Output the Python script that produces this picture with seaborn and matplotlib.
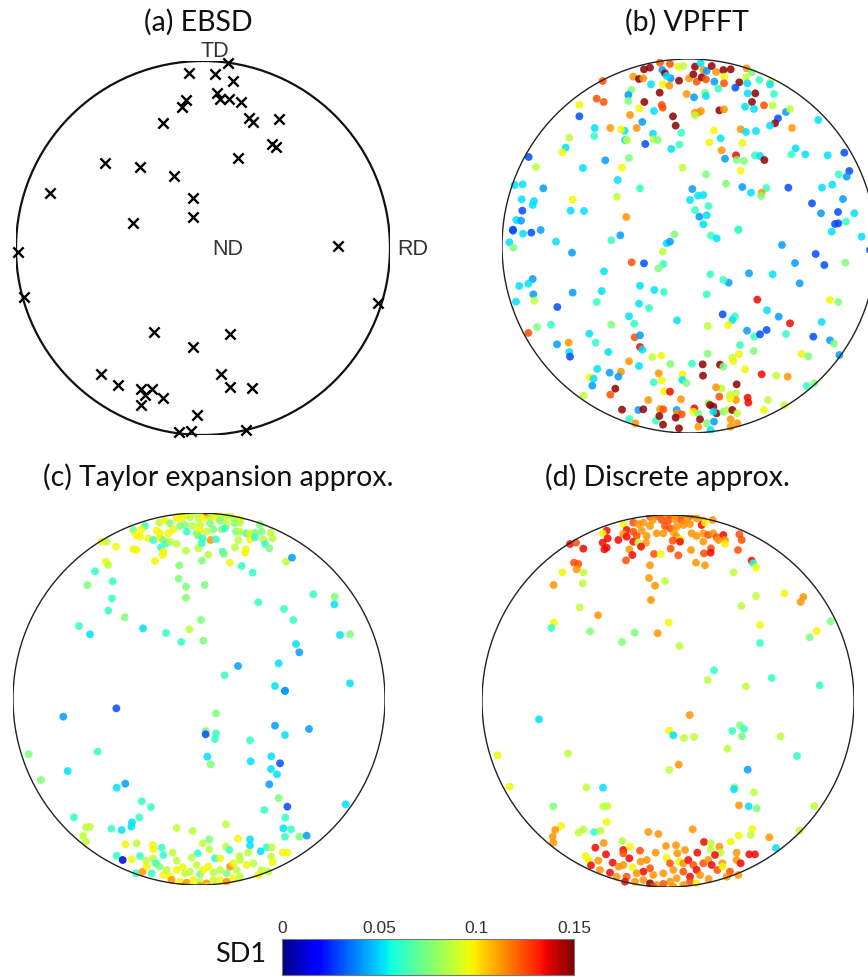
import numpy as np
import matplotlib
matplotlib.use("Agg")
import matplotlib.pyplot as plt
from matplotlib.patches import Circle
import seaborn as sns

sns.set_theme(style="white")
plt.rcParams["font.family"] = ["Lato", "DejaVu Sans"]

# ---------------- data ----------------
titles = ["(a) EBSD", "(b) VPFFT", "(c) Taylor expansion approx.", "(d) Discrete approx."]
cbar_ticks = [0, 0.05, 0.1, 0.15]
cbar_labels = ["0", "0.05", "0.1", "0.15"]
sd_range = (0.0, 0.15)

# (a) EBSD poles: projected position, radius = 187 units, y towards TD
ebsd_x = [25, -14, 12, 30, 14, 17, 26, 38, -17, -21, -40, 46, 50, 76, 69, 73, 35, -98, -63, -29,
          -153, -10, -10, -70, 135, -185, -179, 175, -49, 27, -10, -102, 18, -85, -62, -51, -58, -40,
          27, 49, -62, -6, -24, -12, 43]
ebsd_y = [185, 175, 174, 167, 155, 149, 149, 146, 148, 141, 125, 130, 126, 129, 104, 101, 90, 85, 81, 72,
          55, 50, 31, 25, 2, -4, -49, -55, -84, -86, -99, -126, -126, -137, -141, -141, -147, -150,
          -139, -140, -157, -167, -184, -183, -182]
ebsd_radius = 187

# SD1 levels
B, A, C, Q, G, L, Y, O, R, r, D = 0.030, 0.042, 0.052, 0.062, 0.075, 0.087, 0.097, 0.113, 0.124, 0.135, 0.148

# (b) VPFFT : positions measured on a 1/3-pixel grid of two reading windows
vpfft_upper = [
    (338,123,R),(462,88,D),(480,83,D),(510,68,R),(540,72,R),(517,90,A),(525,100,D),(565,80,Y),(580,78,L),
    (542,115,A),(530,108,C),(567,122,D),(597,115,O),(615,80,D),(632,70,C),(640,90,O),(650,93,A),(665,78,D),
    (678,96,O),(700,90,D),(722,88,D),(703,110,Y),(620,125,R),(635,112,D),(610,103,D),(648,118,R),(673,125,A),
    (702,130,R),(770,85,O),(785,97,G),(768,112,L),(748,127,D),(736,143,B),(772,130,C),(808,120,Q),(842,125,L),
    (840,133,C),(430,110,O),(447,117,D),(460,115,O),(483,133,C),(518,133,Y),(538,137,O),(590,162,O),(612,172,A),
    (645,158,G),(648,168,C),(685,146,Q),(773,160,C),(796,160,D),(852,162,Q),(786,186,D),(765,200,C),(792,207,C),
    (822,196,R),(848,196,L),(888,216,A),(900,207,L),(864,235,B),(855,250,D),(840,257,C),(906,264,O),(985,240,C),
    (509,158,D),(463,186,D),(424,150,G),(415,165,A),(415,183,G),(448,205,Y),(420,225,O),(515,195,R),(518,203,R),
    (492,213,C),(457,246,A),(549,229,D),(557,257,D),(440,264,O),(404,272,C),(405,300,C),(411,300,L),(393,268,Y),
    (361,264,O),(314,264,C),(313,288,Q),(320,176,R),(341,186,R),(268,194,Y),(268,229,B),(238,293,L),(227,323,C),
    (217,337,Y),(489,281,C),(490,298,L),(503,300,G),(466,312,B),(544,327,C),(568,314,Q),(574,278,Q),(615,218,O),
    (625,218,O),(633,213,O),(615,226,L),(688,211,D),(702,208,O),(672,271,Y),(692,295,C),(658,307,Y),(752,268,O),
    (768,276,C),(798,273,C),(757,309,Y),(695,331,O),(705,356,A),(738,346,r),(740,360,G),(762,363,G),(752,392,Y),
    (795,346,Q),(810,348,C),(823,360,D),(917,325,C),(904,343,Q),(946,343,C),(1013,346,C),(1063,338,B),(1078,393,B),
    (1070,410,A),(1046,403,Q),(996,443,C),(1027,434,C),(895,443,B),(829,444,Q),(815,458,O),(813,468,G),(783,458,C),
    (757,441,A),(708,431,G),(648,403,G),(578,383,L),(607,447,A),(624,467,C),(640,465,C),(600,480,C),(655,498,Q),
    (615,510,Q),(628,530,A),(650,526,C),(640,553,C),(383,420,C),(450,445,Q),(396,383,Y),(417,354,G),(346,361,A),
    (279,384,C),(381,470,L),(409,531,O),(248,479,Y),(242,512,C),(282,513,C),(138,381,L),(116,351,B),(74,435,C),
    (98,433,C),(160,445,A),(95,478,C),(132,483,C),(128,495,C),(97,512,B),(79,540,C),(93,542,A),(69,569,B),
    (966,490,B),(993,520,A),(1044,516,B),(1093,520,C),(1059,477,A),(1035,552,B),(1045,550,B),(1068,545,Q),
    (745,568,Q)]
vpfft_lower = [
    (69,2,B),(99,11,C),(124,8,B),(152,0,A),(58,37,C),(70,53,G),(198,35,C),(246,68,A),(364,31,Q),(391,16,A),
    (553,13,G),(530,40,C),(540,35,A),(518,65,L),(520,102,Q),(505,115,G),(462,100,B),(425,97,R),(663,17,Q),
    (680,25,C),(745,0,Q),(876,45,A),(977,72,B),(1003,105,B),(1025,5,C),(1066,98,G),(1115,20,C),(1140,60,B),
    (915,99,A),(929,160,A),(848,133,C),(777,130,A),(716,158,A),(700,150,Q),(661,133,Q),(650,193,Q),(493,180,C),
    (522,186,Q),(450,167,C),(447,221,C),(477,234,Q),(417,259,C),(433,281,Q),(364,284,G),(342,124,C),(335,183,C),
    (320,216,Q),(248,188,A),(128,147,A),(115,161,C),(88,168,C),(130,193,A),(133,212,L),(78,215,C),(202,231,B),
    (141,291,G),(183,284,Q),(115,309,R),(201,343,A),(236,338,O),(238,366,C),(240,380,B),(298,311,C),(317,338,Q),
    (355,366,C),(434,322,R),(450,316,A),(450,351,r),(457,359,C),(561,271,C),(653,288,L),(698,253,B),(735,259,Q),
    (727,270,C),(715,285,Y),(802,209,r),(831,241,C),(866,260,A),(900,280,r),(995,276,C),(1020,210,Y),(1045,216,G),
    (771,302,A),(793,320,Q),(810,313,B),(830,300,B),(888,312,Q),(970,320,B),(1020,331,A),(1032,341,G),(750,345,Q),
    (747,372,Y),(791,363,G),(653,371,G),(606,401,Q),(541,402,G),(514,377,Y),(487,381,L),(417,394,O),(447,408,C),
    (393,425,O),(385,440,A),(359,428,A),(322,417,C),(299,442,Y),(311,446,C),(307,467,A),(281,497,L),(361,494,R),
    (376,476,D),(491,457,Q),(506,430,O),(515,451,Y),(522,484,Y),(540,485,r),(578,433,Y),(577,450,C),(589,459,G),
    (573,508,O),(475,510,O),(396,539,D),(418,567,Q),(436,580,O),(445,540,A),(460,538,D),(498,572,Q),(510,537,O),
    (520,538,R),(508,558,D),(519,584,D),(560,540,A),(562,550,O),(575,553,R),(557,563,D),(567,595,D),(613,535,r),
    (610,545,Y),(625,551,G),(630,568,D),(625,590,O),(655,520,G),(660,525,D),(670,530,D),(680,550,D),(670,545,C),
    (672,575,A),(650,580,G),(662,600,C),(700,545,G),(712,540,L),(727,540,D),(742,550,L),(722,568,O),(742,580,O),
    (722,590,O),(638,403,D),(639,437,D),(690,404,D),(700,410,G),(727,383,L),(730,393,Y),(765,418,Y),(740,463,D),
    (738,490,L),(738,510,O),(720,495,L),(720,505,Y),(695,475,L),(678,472,O),(688,500,R),(773,503,r),(775,518,r),
    (834,510,L),(822,540,Y),(883,525,L),(815,433,r),(859,437,L),(893,440,O),(935,372,Y),(955,379,G),(950,468,Q),
    (973,460,G),(1048,375,A)]

# (c) Taylor expansion approx.
taylor_upper = [
    (540,42,Y),(560,45,Y),(580,38,L),(600,40,L),(620,42,r),(640,40,Y),(660,42,Y),(688,44,L),(530,55,Y),(545,55,Y),
    (570,52,L),(595,55,L),(610,55,Y),(630,52,L),(650,55,Y),(675,52,L),(700,55,L),(720,58,Y),(478,68,L),(495,62,Y),
    (510,70,G),(540,78,G),(555,75,G),(578,78,L),(600,75,L),(630,70,G),(660,62,G),(680,72,L),(705,70,G),(720,68,L),
    (780,73,G),(435,78,Q),(400,90,G),(425,88,Y),(470,92,Y),(480,100,Y),(505,100,Y),(520,88,Y),(560,95,Q),(590,100,G),
    (600,90,Y),(620,95,L),(640,88,G),(665,88,G),(675,85,Q),(708,95,G),(720,95,L),(740,100,Q),(750,100,Y),(765,98,G),
    (785,95,G),(812,98,L),(408,105,Y),(420,110,Y),(445,115,Y),(460,120,Q),(480,115,Y),(490,120,G),(500,130,Q),
    (510,125,L),(530,132,L),(595,108,G),(608,115,Q),(632,120,O),(648,118,Q),(715,120,L),(750,118,Y),(765,112,Q),
    (790,118,L),(818,115,L),(305,125,Y),(320,125,L),(348,140,Y),(400,148,Y),(410,150,Y),(483,142,Q),(490,155,Y),
    (558,152,L),(595,145,L),(605,130,Q),(668,155,Q),(672,162,G),(705,142,L),(738,148,Y),(735,158,Y),(795,132,Q),
    (808,145,G),(625,164,L),(606,182,G),(488,165,Y),(465,183,Y),(538,196,G),(690,188,Y),(725,198,Q),(318,185,Y),
    (325,195,L),(858,185,L),(876,173,A),(758,218,Q),(285,214,Q),(262,255,G),(338,244,Q),(536,236,G),(558,260,G),
    (614,255,G),(558,293,G),(336,295,Q),(325,332,Q),(374,352,G),(237,378,Q),(270,403,C),(429,385,C),(498,399,Q),
    (568,388,L),(603,360,G),(544,426,Q),(610,422,G),(775,307,Q),(852,327,Q),(880,360,Q),(940,283,Q),(1004,290,G),
    (1003,313,C),(1020,405,C),(1050,403,G),(888,432,C),(898,457,A),(836,490,C),(714,498,A),(674,526,Q),(825,558,C),
    (855,572,A),(1050,550,C)]
taylor_lower = [
    (855,3,A),(190,80,A),(349,55,B),(648,70,G),(617,123,G),(617,133,B),(648,130,Q),(645,147,Q),(750,151,Q),
    (825,107,A),(855,135,C),(927,117,A),(86,193,G),(293,185,Q),(203,243,C),(123,270,G),(622,200,C),(632,223,G),
    (752,214,C),(814,199,C),(840,220,B),(813,237,C),(831,253,C),(808,283,A),(350,293,C),(376,281,A),(425,334,Q),
    (453,351,Q),(836,324,G),(862,350,B),(793,360,Q),(1037,343,C),(222,382,Q),(258,412,L),(270,410,L),(250,437,L),
    (258,455,L),(334,416,Q),(365,420,C),(396,397,C),(394,410,C),(418,382,Q),(530,414,L),(578,423,L),(678,403,L),
    (856,383,Q),(850,415,C),(873,418,Q),(855,440,Q),(898,440,G),(920,437,A),(750,448,C),(750,466,C),(714,446,Y),
    (376,463,Y),(410,460,L),(458,465,Y),(460,478,Y),(485,473,Q),(350,497,Q),(368,510,0.012),(395,508,Y),(420,498,Q),
    (438,512,L),(460,505,L),(468,520,Q),(490,495,Q),(518,488,L),(530,512,L),(575,503,L),(593,490,Q),(608,460,L),
    (628,448,G),(628,478,L),(645,505,Q),(660,505,Y),(678,470,L),(688,480,Q),(718,498,L),(720,510,L),(745,488,L),
    (782,484,C),(800,472,Q),(815,472,L),(813,500,L),(818,517,Y),(848,488,Y),(862,488,Y),(408,550,Q),(428,545,O),
    (440,530,Y),(455,550,Q),(478,530,G),(490,555,Y),(500,540,L),(510,560,Y),(530,540,Y),(548,532,Y),(555,550,L),
    (570,545,L),(590,525,L),(600,552,G),(610,540,Y),(625,530,Y),(640,548,L),(660,540,L),(680,550,G),(690,530,O),
    (700,520,Y),(710,540,L),(740,525,Y),(760,520,L),(775,555,Y),(785,540,L),(805,545,L),(515,570,O),(540,575,Y),
    (560,578,O),(580,570,Y),(600,575,L),(620,580,O),(640,570,L),(660,570,Y),(680,575,O),(700,565,Y),(720,560,L),
    (550,590,O),(575,590,Y),(600,588,O),(620,590,Y)]

# (d) Discrete approx.
discrete_upper = [
    (540,50,R),(560,48,R),(580,45,O),(600,45,R),(620,48,R),(640,45,O),(660,48,R),(680,55,O),(700,62,O),(728,60,O),
    (548,60,O),(575,60,R),(595,62,R),(615,58,O),(635,62,R),(650,60,O),(490,68,R),(505,72,O),(520,68,O),(460,72,Y),
    (540,78,O),(585,78,R),(600,85,R),(620,80,O),(640,75,O),(660,72,O),(695,75,r),(705,68,Y),(410,92,r),(398,100,Y),
    (470,90,r),(460,102,O),(490,95,R),(515,92,O),(530,108,O),(560,100,O),(580,100,O),(612,98,O),(665,100,O),
    (680,108,O),(700,100,O),(715,105,R),(730,100,O),(740,112,R),(760,105,r),(808,103,R),(398,128,r),(413,115,r),
    (445,120,r),(470,110,r),(490,125,r),(500,108,R),(505,128,L),(528,128,O),(620,110,O),(632,118,Y),(608,122,R),
    (630,125,r),(700,125,O),(745,120,O),(765,120,O),(765,132,Y),(815,120,R),(300,132,r),(318,128,R),(340,146,r),
    (403,148,r),(410,143,r),(478,148,O),(487,165,r),(513,140,r),(552,162,R),(572,162,Y),(602,146,R),(625,166,R),
    (663,150,O),(702,160,R),(723,145,R),(722,158,r),(804,150,R),(468,181,R),(540,196,O),(678,188,O),(705,196,O),
    (845,182,r),(850,190,Q),(858,203,Y),(312,188,R),(325,192,R),(320,208,O),(277,217,Y),(340,217,L),(791,217,L),
    (537,234,O),(585,243,L),(555,257,O),(251,255,O),(338,250,L),(543,300,O),(858,288,L),(814,318,L),(943,280,Y),
    (1000,291,O),(992,306,O),(329,322,L),(384,346,O),(596,368,Y),(870,375,Y),(252,368,Y),(244,384,Q),(360,394,G),
    (494,398,G),(563,400,O),(456,426,G),(628,438,L),(870,429,Q),(1082,364,G),(1040,393,Y),(1019,412,G),(732,511,Q),
    (713,540,L),(828,559,L),(905,534,Q),(1049,556,Q)]
discrete_lower = [
    (207,88,C),(659,75,O),(598,122,Y),(610,136,C),(642,144,L),(672,141,L),(787,123,Q),(810,106,G),(822,117,Q),
    (816,139,G),(932,139,L),(772,176,L),(981,198,Q),(83,196,Y),(294,191,L),(626,224,O),(598,240,L),(833,239,A),
    (119,290,Y),(349,292,L),(399,293,C),(794,292,G),(792,298,C),(852,307,L),(250,349,G),(400,349,L),(412,348,L),
    (807,346,O),(836,349,C),(860,355,G),(1033,348,L),(273,408,Y),(256,420,O),(248,440,O),(250,458,O),(326,428,L),
    (340,418,L),(372,426,Q),(392,422,L),(410,396,Y),(535,426,O),(565,432,O),(668,418,O),(847,417,Y),(806,437,Y),
    (842,435,L),(898,442,O),(989,422,L),(918,474,C),(457,453,L),(376,473,r),(401,459,O),(460,480,r),(480,470,Y),
    (510,482,R),(557,488,O),(588,468,O),(618,466,O),(645,480,O),(702,456,r),(723,460,L),(748,470,O),(782,455,Y),
    (722,478,L),(752,488,L),(682,488,r),(622,490,O),(590,503,Y),(530,510,O),(478,505,r),(460,490,R),(408,493,r),
    (347,498,Y),(356,510,Y),(385,512,O),(363,526,r),(390,540,O),(420,548,r),(428,518,r),(446,530,O),(460,525,O),
    (488,532,Y),(512,515,O),(540,535,R),(520,545,r),(500,550,O),(470,560,R),(440,560,O),(465,575,r),(495,575,O),
    (520,570,O),(550,555,O),(580,550,O),(600,520,R),(610,540,O),(628,515,Y),(640,520,O),(655,510,r),(670,525,R),
    (680,540,r),(700,520,R),(715,510,O),(735,495,r),(725,525,r),(742,540,R),(757,520,O),(758,530,Y),(780,545,R),
    (800,510,O),(800,488,O),(812,520,r),(838,493,r),(855,493,r),(805,555,O),(770,560,O),(716,567,O),(690,555,O),
    (660,560,r),(640,545,R),(620,565,O),(600,575,O),(580,582,R),(560,585,O),(540,580,D),(550,590,R),(610,590,O),
    (640,585,O),(660,575,R),(680,580,Y)]

# ---------------- figure ----------------
W, H = 868, 977
fig = plt.figure(figsize=(W / 100, H / 100), dpi=100)
jet = matplotlib.colormaps["jet"]

def make_ax(cx, cy, R, lw, col):
    ax = fig.add_axes([(cx - R) / W, 1 - (cy + R) / H, 2 * R / W, 2 * R / H])
    ax.set_xlim(-1, 1)
    ax.set_ylim(-1, 1)
    ax.set_aspect("equal")
    ax.axis("off")
    ax.add_patch(Circle((0, 0), 1, fill=False, lw=lw, ec=col, zorder=3))
    return ax

def window_to_disc(block, ox, oy, cx, cy, R):
    a = np.array(block, dtype=float)
    u = (ox + a[:, 0] / 3.0 - cx) / R
    v = (cy - (oy + a[:, 1] / 3.0)) / R
    return u, v, a[:, 2]

def dots(ax, u, v, val):
    sns.scatterplot(x=u, y=v, hue=val, palette=jet, hue_norm=sd_range, s=32,
                    alpha=0.85, linewidth=0, legend=False, ax=ax, zorder=2)

# (a)
axa = make_ax(203, 248, 187, 1.6, "#111111")
sns.scatterplot(x=np.array(ebsd_x) / ebsd_radius, y=np.array(ebsd_y) / ebsd_radius, marker="x",
                color="black", s=55, linewidth=1.7, ax=axa, clip_on=False, zorder=4)
lab_font = dict(family=["Liberation Sans", "DejaVu Sans"], size=15.5, color="#333333")
axa.text(0.064, 1.05, "TD", ha="center", va="center", **lab_font)
axa.text(0.13, -0.01, "ND", ha="center", va="center", **lab_font)
axa.text(1.12, -0.01, "RD", ha="center", va="center", **lab_font)

# (b)
axb = make_ax(689, 246, 187, 1.0, "#222222")
for blk, oy in ((vpfft_upper, 40), (vpfft_lower, 230)):
    u, v, val = window_to_disc(blk, 490, oy, 689, 246, 187)
    dots(axb, u, v, val)

# (c)
axc = make_ax(199, 699, 186, 1.0, "#222222")
for blk, oy in ((taylor_upper, 500), (taylor_lower, 690)):
    u, v, val = window_to_disc(blk, 0, oy, 199, 699, 186)
    dots(axc, u, v, val)

# (d)
axd = make_ax(668, 701, 186, 1.0, "#222222")
for blk, oy in ((discrete_upper, 500), (discrete_lower, 690)):
    u, v, val = window_to_disc(blk, 470, oy, 668, 701, 186)
    dots(axd, u, v, val)

# titles
title_pos = [(198, 22), (687, 22), (218, 477), (667, 477)]
for t, (x, y) in zip(titles, title_pos):
    fig.text(x / W, 1 - y / H, t, ha="center", va="center", fontsize=20.5, color="#111111")

# colorbar
cax = fig.add_axes([282 / W, 1 - 975 / H, 292 / W, 36 / H])
sm = matplotlib.cm.ScalarMappable(norm=matplotlib.colors.Normalize(*sd_range), cmap=jet)
cb = fig.colorbar(sm, cax=cax, orientation="horizontal", ticks=cbar_ticks)
cb.ax.set_xticklabels(cbar_labels)
cax.xaxis.set_ticks_position("both")
cax.tick_params(axis="x", direction="in", length=3, width=0.6, color="#555555",
                labeltop=True, labelbottom=False, labelsize=12.5, labelcolor="#333333", pad=2)
for lab in cax.get_xticklabels():
    lab.set_fontfamily(["Liberation Sans", "DejaVu Sans"])
cb.outline.set_edgecolor("#777777")
cb.outline.set_linewidth(0.8)
fig.text(241 / W, 1 - 955 / H, "SD1", ha="center", va="center", fontsize=19.5, color="#111111")

fig.savefig("out.png", dpi=100)
